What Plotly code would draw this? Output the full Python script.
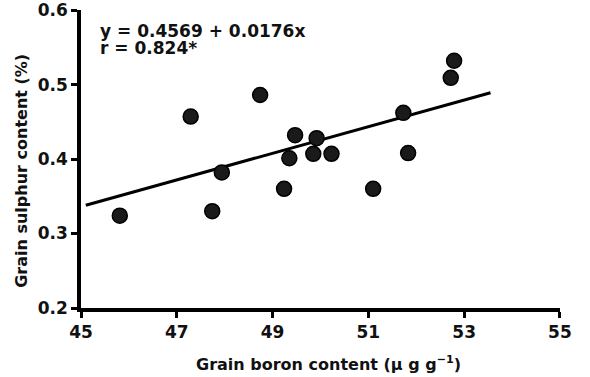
import plotly.graph_objects as go

# Data
boron = [45.81, 47.29, 47.74, 47.94, 48.74, 49.24, 49.35, 49.47, 49.85, 49.92,
         50.23, 51.10, 51.73, 51.83, 52.72, 52.79]
sulphur = [0.324, 0.457, 0.330, 0.382, 0.486, 0.360, 0.401, 0.432, 0.407, 0.428,
           0.407, 0.360, 0.462, 0.408, 0.509, 0.532]
fit_x = [45.1, 53.55]
fit_y = [0.338, 0.489]
x_ticks = [45, 47, 49, 51, 53, 55]
y_ticks = [0.2, 0.3, 0.4, 0.5, 0.6]
eq_lines = ["y = 0.4569 + 0.0176x", "r = 0.824*"]

FONT = "DejaVu Sans"
INK = "#111111"

fig = go.Figure()
fig.add_trace(go.Scatter(x=fit_x, y=fit_y, mode="lines",
                         line=dict(color="black", width=3), showlegend=False))
fig.add_trace(go.Scatter(x=boron, y=sulphur, mode="markers",
                         marker=dict(size=15, color="#1a1a1a",
                                     line=dict(color="black", width=1.5)),
                         showlegend=False))

axis_common = dict(showgrid=False, zeroline=False, showline=True, linecolor="black",
                   linewidth=3.5, ticks="outside", ticklen=6, tickwidth=3,
                   tickcolor="black", ticklabeloverflow="allow", automargin=False,
                   tickfont=dict(family=FONT, size=17, color=INK, weight="bold"))
fig.update_xaxes(range=[45, 55.001], tickvals=x_ticks,
                 ticktext=[str(v) for v in x_ticks], **axis_common)
fig.update_yaxes(range=[0.2, 0.6001], tickvals=y_ticks,
                 ticktext=[f"{v:.1f}" for v in y_ticks], **axis_common)

ann_font = dict(family=FONT, size=17, color=INK, weight="bold")
fig.add_annotation(x=45.36, y=0.5714, xref="x", yref="y", text=eq_lines[0],
                   showarrow=False, xanchor="left", yanchor="middle", font=ann_font)
fig.add_annotation(x=45.36, y=0.5493, xref="x", yref="y", text=eq_lines[1],
                   showarrow=False, xanchor="left", yanchor="middle", font=ann_font)

title_font = dict(family=FONT, size=16, color=INK, weight="bold")
fig.add_annotation(x=50.17, y=0, xref="x", yref="paper", yanchor="top", yshift=-43,
                   text="Grain boron content (\u03bc g g<sup>\u22121</sup>)",
                   showarrow=False, font=title_font)
fig.add_annotation(x=0, y=0.3835, xref="paper", yref="y", xanchor="right",
                   xshift=-48, textangle=-90,
                   text="Grain sulphur content (%)", showarrow=False, font=title_font)

fig.update_layout(width=590, height=377, margin=dict(l=81, r=30, t=10, b=69),
                  plot_bgcolor="white", paper_bgcolor="white")
fig.write_html("out.html")
